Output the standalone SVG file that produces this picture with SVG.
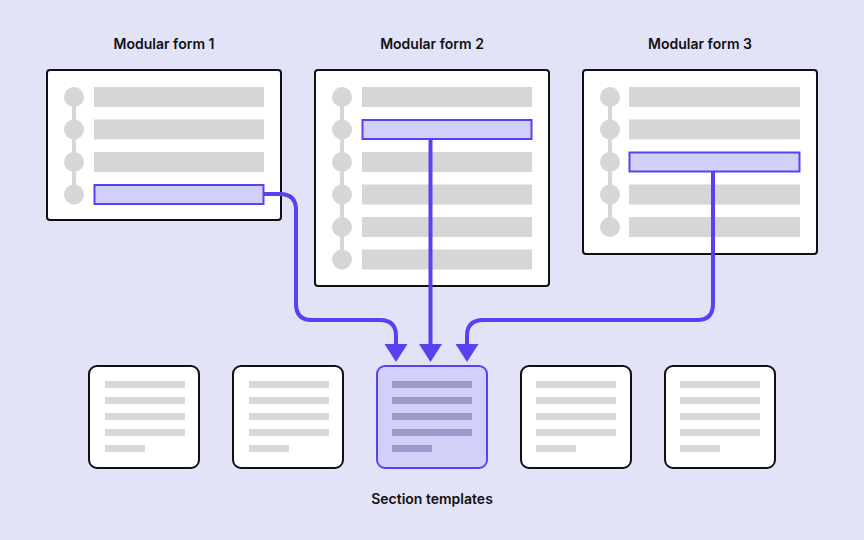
<svg xmlns="http://www.w3.org/2000/svg" width="864" height="540" viewBox="0 0 864 540">
<style>
.bg{fill:#e3e3f8}
.form{fill:#ffffff;stroke:#111111;stroke-width:2}
.dot{fill:#d6d6d6}
.rail{stroke:#d6d6d6;stroke-width:4}
.bar{fill:#d6d6d6}
.hl{fill:#d0d0f9;stroke:#5643ef;stroke-width:2}
.card{fill:#ffffff;stroke:#111111;stroke-width:2}
.cardhl{fill:#d0d0f9;stroke:#5643ef;stroke-width:2}
.ln{fill:#d9d9d9}
.lnhl{fill:#9b98c9}
.title{font-family:Inter,"Liberation Sans",sans-serif;font-size:14px;font-weight:600;fill:#111111;text-anchor:middle}
.conn{fill:none;stroke:#5643ef;stroke-width:4}
</style>
<defs>
<marker id="arrow" markerUnits="userSpaceOnUse" markerWidth="20" markerHeight="24" refX="0" refY="12" orient="auto" viewBox="0 0 20 24">
<path d="M0,0.5 L18,12 L0,23.5 z" fill="#5643ef"/>
</marker>
</defs>
<rect class="bg" x="0" y="0" width="864" height="540"/>

<g id="form1">
<text class="title" x="164" y="49">Modular form 1</text>
<rect class="form" x="47" y="70" width="234" height="150" rx="3"/>
<line class="rail" x1="74" y1="97" x2="74" y2="194"/>
<circle class="dot" cx="74" cy="97" r="10"/>
<circle class="dot" cx="74" cy="129.5" r="10"/>
<circle class="dot" cx="74" cy="162" r="10"/>
<circle class="dot" cx="74" cy="194.5" r="10"/>
<rect class="bar" x="94" y="87" width="170" height="20"/>
<rect class="bar" x="94" y="119.5" width="170" height="20"/>
<rect class="bar" x="94" y="152" width="170" height="20"/>
<rect class="hl" x="94.5" y="185" width="169" height="19"/>
</g>

<g id="form2">
<text class="title" x="432" y="49">Modular form 2</text>
<rect class="form" x="315" y="70" width="234" height="216" rx="3"/>
<line class="rail" x1="342" y1="97" x2="342" y2="259"/>
<circle class="dot" cx="342" cy="97" r="10"/>
<circle class="dot" cx="342" cy="129.5" r="10"/>
<circle class="dot" cx="342" cy="162" r="10"/>
<circle class="dot" cx="342" cy="194.5" r="10"/>
<circle class="dot" cx="342" cy="227" r="10"/>
<circle class="dot" cx="342" cy="259.5" r="10"/>
<rect class="bar" x="362" y="87" width="170" height="20"/>
<rect class="hl" x="362.5" y="120" width="169" height="19"/>
<rect class="bar" x="362" y="152" width="170" height="20"/>
<rect class="bar" x="362" y="184.5" width="170" height="20"/>
<rect class="bar" x="362" y="217" width="170" height="20"/>
<rect class="bar" x="362" y="249.5" width="170" height="20"/>
</g>

<g id="form3">
<text class="title" x="700" y="49">Modular form 3</text>
<rect class="form" x="583" y="70" width="234" height="184" rx="3"/>
<line class="rail" x1="610" y1="97" x2="610" y2="227"/>
<circle class="dot" cx="610" cy="97" r="10"/>
<circle class="dot" cx="610" cy="129.5" r="10"/>
<circle class="dot" cx="610" cy="162" r="10"/>
<circle class="dot" cx="610" cy="194.5" r="10"/>
<circle class="dot" cx="610" cy="227" r="10"/>
<rect class="bar" x="629" y="87" width="171" height="20"/>
<rect class="bar" x="629" y="119.5" width="171" height="20"/>
<rect class="hl" x="629.5" y="152.5" width="170" height="19"/>
<rect class="bar" x="629" y="184.5" width="171" height="20"/>
<rect class="bar" x="629" y="217" width="171" height="20"/>
</g>

<g id="connectors">
<path class="conn" marker-end="url(#arrow)" d="M264,194 H280 Q296,194 296,210 V304 Q296,320 312,320 H380 Q396,320 396,336 V344"/>
<path class="conn" marker-end="url(#arrow)" d="M430.5,139 V344"/>
<path class="conn" marker-end="url(#arrow)" d="M713,171 V304 Q713,320 697,320 H483 Q467,320 467,336 V344"/>
</g>

<g id="card1">
<rect class="card" x="89" y="366" width="110" height="102" rx="8"/>
<rect class="ln" x="105" y="381" width="80" height="7"/>
<rect class="ln" x="105" y="397" width="80" height="7"/>
<rect class="ln" x="105" y="413" width="80" height="7"/>
<rect class="ln" x="105" y="429" width="80" height="7"/>
<rect class="ln" x="105" y="445" width="40" height="7"/>
</g>
<g id="card2">
<rect class="card" x="233" y="366" width="110" height="102" rx="8"/>
<rect class="ln" x="249" y="381" width="80" height="7"/>
<rect class="ln" x="249" y="397" width="80" height="7"/>
<rect class="ln" x="249" y="413" width="80" height="7"/>
<rect class="ln" x="249" y="429" width="80" height="7"/>
<rect class="ln" x="249" y="445" width="40" height="7"/>
</g>
<g id="card3">
<rect class="cardhl" x="377" y="366" width="110" height="102" rx="8"/>
<rect class="lnhl" x="392" y="381" width="80" height="7"/>
<rect class="lnhl" x="392" y="397" width="80" height="7"/>
<rect class="lnhl" x="392" y="413" width="80" height="7"/>
<rect class="lnhl" x="392" y="429" width="80" height="7"/>
<rect class="lnhl" x="392" y="445" width="40" height="7"/>
</g>
<g id="card4">
<rect class="card" x="521" y="366" width="110" height="102" rx="8"/>
<rect class="ln" x="536" y="381" width="80" height="7"/>
<rect class="ln" x="536" y="397" width="80" height="7"/>
<rect class="ln" x="536" y="413" width="80" height="7"/>
<rect class="ln" x="536" y="429" width="80" height="7"/>
<rect class="ln" x="536" y="445" width="40" height="7"/>
</g>
<g id="card5">
<rect class="card" x="665" y="366" width="110" height="102" rx="8"/>
<rect class="ln" x="680" y="381" width="80" height="7"/>
<rect class="ln" x="680" y="397" width="80" height="7"/>
<rect class="ln" x="680" y="413" width="80" height="7"/>
<rect class="ln" x="680" y="429" width="80" height="7"/>
<rect class="ln" x="680" y="445" width="40" height="7"/>
</g>
<g id="label">
<text class="title" x="432" y="504">Section templates</text>
</g>
</svg>
